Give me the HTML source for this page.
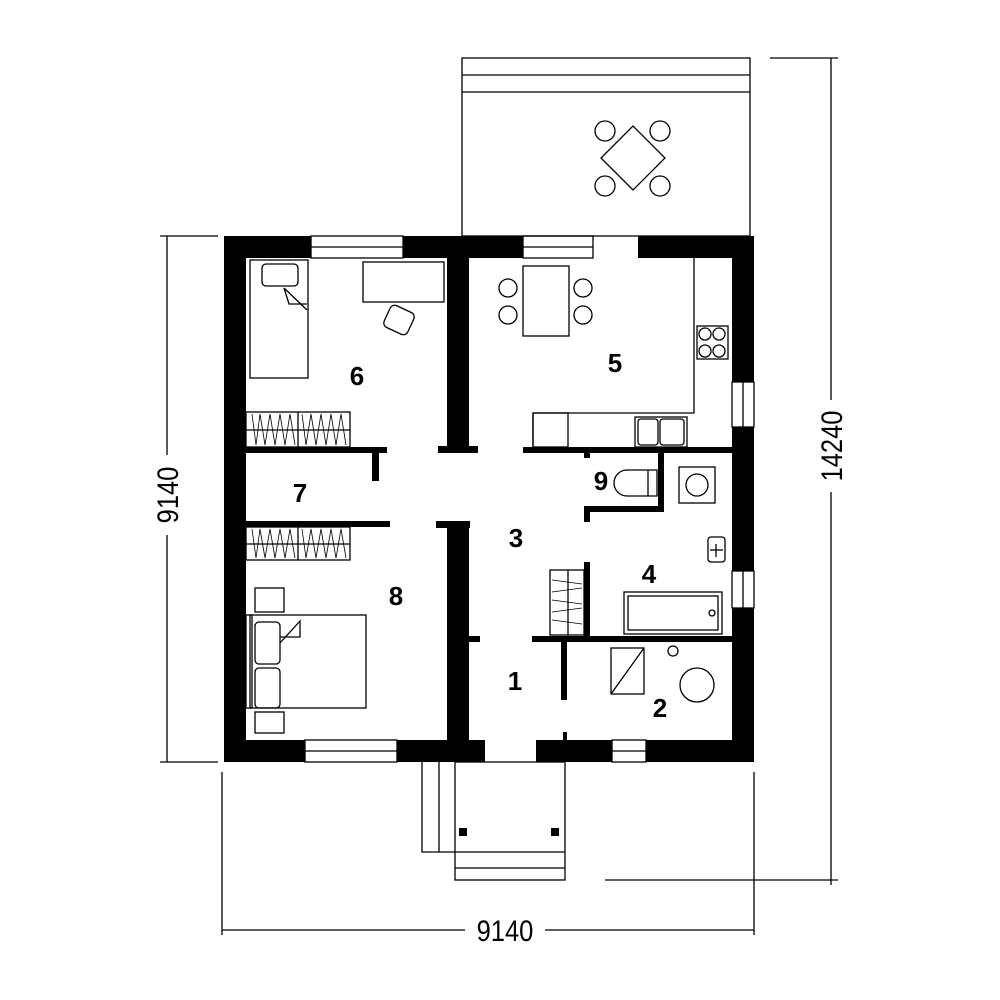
<!DOCTYPE html>
<html><head><meta charset="utf-8"><style>html,body{margin:0;padding:0;background:#fff}svg{display:block}</style></head>
<body>
<svg width="1000" height="1000" viewBox="0 0 1000 1000" xmlns="http://www.w3.org/2000/svg" font-family="Liberation Sans, sans-serif">
<rect width="1000" height="1000" fill="#fff"/>
<g fill="none" stroke="#000" stroke-width="1.3">
<rect x="462" y="58" width="288" height="178"/>
<line x1="462" y1="75" x2="750" y2="75"/><line x1="462" y1="92" x2="750" y2="92"/>
<polygon points="633,126 665,158 633,190 601,158"/>
<circle cx="605" cy="131" r="10"/><circle cx="660" cy="131" r="10"/><circle cx="605" cy="186" r="10"/><circle cx="660" cy="186" r="10"/>
<polyline points="422,762 422,852 565,852"/><line x1="439" y1="762" x2="439" y2="852"/>
<rect x="455" y="762" width="110" height="118"/><line x1="455" y1="868" x2="565" y2="868"/>
<line x1="167" y1="236" x2="167" y2="762"/><line x1="160" y1="236" x2="218" y2="236"/><line x1="160" y1="762" x2="218" y2="762"/>
<line x1="222" y1="930" x2="754" y2="930"/><line x1="222" y1="772" x2="222" y2="935"/><line x1="754" y1="772" x2="754" y2="935"/>
<line x1="831" y1="58" x2="831" y2="885"/><line x1="770" y1="58" x2="838" y2="58"/><line x1="605" y1="880" x2="838" y2="880"/>
<rect x="250" y="260" width="58" height="118"/><rect x="262" y="264" width="36" height="22" rx="4"/><polyline points="284,288 289,304 307,304"/><line x1="284" y1="288" x2="307" y2="310"/>
<rect x="363" y="262" width="81" height="40"/>
<rect x="386" y="308" width="26" height="24" rx="5" transform="rotate(25 399 320)"/>
<rect x="246" y="412" width="104" height="35"/><line x1="298" y1="412" x2="298" y2="447"/><line x1="246" y1="430" x2="350" y2="430"/>
<path d="M252,414 L256,445 L260,414 L265,445 L270,414 L275,445 L280,414 L285,445 L290,414 L295,445 M302,414 L306,445 L311,414 L316,445 L321,414 L326,445 L331,414 L336,445 L341,414 L346,445" stroke-width="0.8"/>
<rect x="246" y="527" width="104" height="33"/><line x1="298" y1="527" x2="298" y2="560"/><line x1="246" y1="544" x2="350" y2="544"/>
<path d="M252,529 L256,558 L260,529 L265,558 L270,529 L275,558 L280,529 L285,558 L290,529 L295,558 M302,529 L306,558 L311,529 L316,558 L321,529 L326,558 L331,529 L336,558 L341,529 L346,558" stroke-width="0.8"/>
<rect x="250" y="615" width="116" height="93"/><rect x="246" y="615" width="6" height="93"/>
<rect x="255" y="622" width="25" height="42" rx="4"/><rect x="255" y="668" width="25" height="40" rx="4"/>
<polyline points="280,643 300,621 300,637 280,637"/>
<rect x="255" y="588" width="29" height="24"/><rect x="255" y="712" width="29" height="21"/>
<rect x="523" y="266" width="46" height="70"/>
<circle cx="508" cy="288" r="9"/><circle cx="508" cy="315" r="9"/><circle cx="583" cy="288" r="9"/><circle cx="583" cy="315" r="9"/>
<polyline points="694,258 694,413 533,413 533,447"/>
<rect x="533" y="413" width="35" height="34"/>
<rect x="697" y="326" width="31" height="33"/>
<circle cx="705" cy="334" r="6"/><circle cx="719" cy="334" r="6"/><circle cx="705" cy="351" r="6"/><circle cx="719" cy="351" r="6"/>
<rect x="635" y="417" width="52" height="30"/><rect x="638" y="419" width="20" height="26" rx="3"/><rect x="660" y="419" width="24" height="26" rx="3"/>
<path d="M647,470 L627,470 A13,13 0 0 0 627,496 L657,496 L657,470 Z"/><line x1="648" y1="470" x2="648" y2="496"/>
<rect x="679" y="467" width="36" height="36"/><circle cx="697" cy="485" r="11"/>
<rect x="708" y="537" width="17" height="25" rx="3"/><line x1="716" y1="544" x2="716" y2="557"/><line x1="710" y1="550" x2="723" y2="550"/>
<rect x="624" y="592" width="98" height="42"/><rect x="628" y="596" width="90" height="34"/><circle cx="712" cy="613" r="3"/>
<rect x="550" y="570" width="34" height="65"/><line x1="568" y1="570" x2="568" y2="635"/>
<path d="M552,580 L582,584 M552,592 L582,588 M552,600 L582,604 M552,612 L582,608 M552,620 L582,624" stroke-width="0.8"/>
<rect x="611" y="648" width="33" height="46"/><line x1="611" y1="694" x2="644" y2="648"/>
<circle cx="697" cy="685" r="17"/><circle cx="673" cy="651" r="5"/>
<rect x="311" y="236" width="92" height="22"/><line x1="311" y1="247" x2="403" y2="247"/>
<rect x="523" y="236" width="70" height="22"/><line x1="523" y1="247" x2="593" y2="247"/>
<rect x="305" y="740" width="92" height="22"/><line x1="305" y1="751" x2="397" y2="751"/>
<rect x="612" y="740" width="34" height="22"/><line x1="612" y1="751" x2="646" y2="751"/>
<rect x="732" y="382" width="22" height="45"/><line x1="743" y1="382" x2="743" y2="427"/>
<rect x="732" y="571" width="22" height="37"/><line x1="743" y1="571" x2="743" y2="608"/>
</g>
<g fill="#000">
<rect x="224" y="236" width="87" height="22"/><rect x="403" y="236" width="120" height="22"/><rect x="638" y="236" width="116" height="22"/>
<rect x="224" y="236" width="22" height="526"/>
<rect x="732" y="236" width="22" height="146"/><rect x="732" y="427" width="22" height="144"/><rect x="732" y="608" width="22" height="154"/>
<rect x="224" y="740" width="81" height="22"/><rect x="397" y="740" width="88" height="22"/><rect x="536" y="740" width="76" height="22"/><rect x="646" y="740" width="108" height="22"/>
<rect x="563" y="732" width="4" height="8"/>
<rect x="447" y="258" width="22" height="195"/><rect x="438" y="446" width="40" height="7"/>
<rect x="246" y="447" width="141" height="6"/><rect x="372" y="453" width="7" height="28"/>
<rect x="246" y="521" width="144" height="6"/><rect x="436" y="521" width="34" height="7"/><rect x="447" y="521" width="22" height="219"/>
<rect x="469" y="636" width="11" height="6"/>
<rect x="523" y="447" width="209" height="6"/><rect x="584" y="453" width="6" height="5"/>
<rect x="658" y="453" width="6" height="59"/><rect x="584" y="506" width="80" height="6"/><rect x="584" y="506" width="6" height="16"/>
<rect x="584" y="562" width="6" height="74"/>
<rect x="532" y="636" width="200" height="6"/><rect x="561" y="642" width="6" height="58"/>
<rect x="459" y="828" width="8" height="8"/><rect x="551" y="828" width="8" height="8"/>
</g>
<g font-weight="bold" font-size="26" text-anchor="middle">
<text x="357" y="385">6</text><text x="300" y="502">7</text><text x="396" y="605">8</text>
<text x="615" y="372">5</text><text x="601" y="490">9</text><text x="516" y="547">3</text>
<text x="649" y="583">4</text><text x="515" y="690">1</text><text x="660" y="717">2</text>
</g>
<g font-size="30" text-anchor="middle">
<rect x="465" y="912" width="80" height="36" fill="#fff"/>
<text x="505" y="941" transform="translate(505 0) scale(0.85 1) translate(-505 0)">9140</text>
<rect x="150" y="455" width="34" height="80" fill="#fff"/>
<text transform="translate(178 495) rotate(-90) scale(0.85 1)" x="0" y="0">9140</text>
<rect x="814" y="400" width="34" height="92" fill="#fff"/>
<text transform="translate(842 446) rotate(-90) scale(0.85 1)" x="0" y="0">14240</text>
</g>
</svg>
</body></html>
